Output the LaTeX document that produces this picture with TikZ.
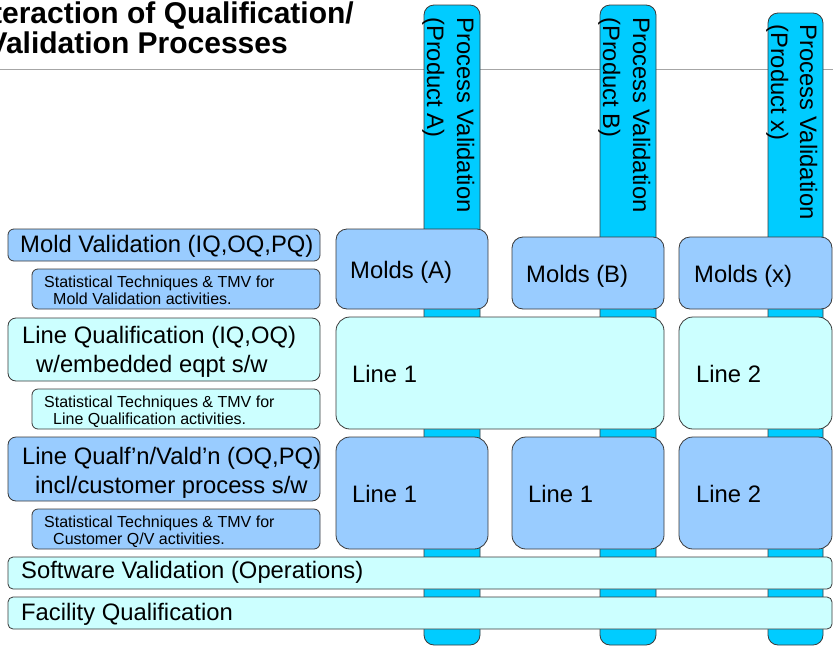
\documentclass[tikz,border=0pt]{standalone}
\usepackage{fontspec}
\setmainfont{Liberation Sans}
\definecolor{lblue}{HTML}{99CCFF}
\definecolor{lcyan}{HTML}{CCFFFF}
\definecolor{barcol}{HTML}{00CCFF}
\definecolor{edge}{HTML}{3A3A3A}
\begin{document}
\begin{tikzpicture}[x=1pt,y=-1pt,
  outl/.style={draw=edge,line width=0.8pt},
  bluebox/.style={outl,fill=lblue},
  cyanbox/.style={outl,fill=lcyan},
  barbox/.style={outl,fill=barcol,rounded corners=10pt},
  big/.style={font=\fontsize{23.8}{28}\selectfont,inner sep=0pt,anchor=base west},
  small/.style={font=\fontsize{16}{18}\selectfont,inner sep=0pt,anchor=base west},
  vert/.style={big,rotate=-90},
  ttl/.style={font=\fontsize{30}{34}\selectfont\bfseries,inner sep=0pt,anchor=base east}]
\useasboundingbox (0,0) rectangle (833,646);
\fill[white] (0,0) rectangle (833,646);
% title
\node[ttl] (t1) at (354,23) {Interaction of Qualification/};
\node[ttl] (t2) at (288,53) {Validation Processes};
\draw[gray!70,line width=1pt] (0,69) -- (833,69);
% vertical bars
\draw[barbox] (424,5) rectangle (480,645);
\draw[barbox] (600,5) rectangle (656,645);
\draw[barbox] (768,13) rectangle (823,645);
\node[vert] (pa1) at (457,17) {Process Validation};
\node[vert] (pa2) at (427,17) {(Product A)};
\node[vert] (pb1) at (633,17) {Process Validation};
\node[vert] (pb2) at (603,17) {(Product B)};
\node[vert] (px1) at (800,24) {Process Validation};
\node[vert] (px2) at (771,24) {(Product x)};
% left column
\draw[bluebox,rounded corners=6pt] (8,229) rectangle (320,261);
\node[big] (mv) at (20,252) {Mold Validation (IQ,OQ,PQ)};
\draw[bluebox,rounded corners=6pt] (32,269) rectangle (320,309);
\node[small] (s1a) at (44,287) {Statistical Techniques \& TMV for};
\node[small] (s1b) at (53,304.5) {Mold Validation activities.};
\draw[cyanbox,rounded corners=8pt] (8,318) rectangle (320,381);
\node[big] (lq1) at (22,343) {Line Qualification (IQ,OQ)};
\node[big] (lq2) at (36,372) {w/embedded eqpt s/w};
\draw[cyanbox,rounded corners=6pt] (32,389) rectangle (320,429);
\node[small] (s2a) at (44,407) {Statistical Techniques \& TMV for};
\node[small] (s2b) at (53,424.5) {Line Qualification activities.};
\draw[bluebox,rounded corners=8pt] (8,437) rectangle (320,501);
\node[big] (lv1) at (22,464) {Line Qualf’n/Vald’n (OQ,PQ)};
\node[big] (lv2) at (35,493) {incl/customer process s/w};
\draw[bluebox,rounded corners=6pt] (32,509) rectangle (320,549);
\node[small] (s3a) at (44,527) {Statistical Techniques \& TMV for};
\node[small] (s3b) at (53,544.5) {Customer Q/V activities.};
% right area
\draw[bluebox,rounded corners=11pt] (336,229) rectangle (488,309);
\node[big] (ma) at (350,278) {Molds (A)};
\draw[bluebox,rounded corners=11pt] (512,237) rectangle (664,309);
\node[big] (mb) at (526,282) {Molds (B)};
\draw[bluebox,rounded corners=11pt] (679,237) rectangle (832,309);
\node[big] (mx) at (694,282) {Molds (x)};
\draw[cyanbox,rounded corners=14pt] (336,317) rectangle (664,429);
\node[big] (l1t) at (352,382) {Line 1};
\draw[cyanbox,rounded corners=14pt] (679,317) rectangle (832,429);
\node[big] (l2t) at (696,382) {Line 2};
\draw[bluebox,rounded corners=14pt] (336,437) rectangle (488,549);
\node[big] (l1a) at (352,502) {Line 1};
\draw[bluebox,rounded corners=14pt] (512,437) rectangle (664,549);
\node[big] (l1b) at (528,502) {Line 1};
\draw[bluebox,rounded corners=14pt] (679,437) rectangle (832,549);
\node[big] (l2b) at (696,502) {Line 2};
% bottom bands
\draw[cyanbox,rounded corners=5pt] (8,557) rectangle (832,589);
\node[big] (sw) at (21,578) {Software Validation (Operations)};
\draw[cyanbox,rounded corners=5pt] (8,597) rectangle (832,629);
\node[big] (fq) at (21,620) {Facility Qualification};
\end{tikzpicture}
\end{document}
